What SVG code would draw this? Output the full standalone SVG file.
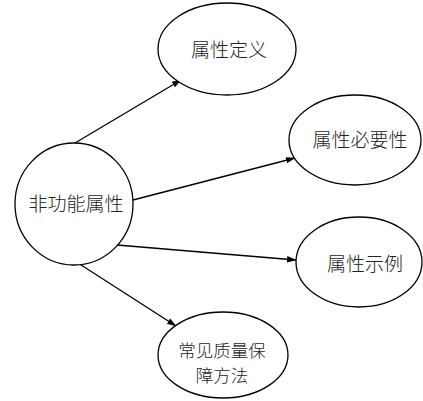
<svg xmlns="http://www.w3.org/2000/svg" width="423" height="401" viewBox="0 0 423 401">
<style>
.n{fill:#fff;stroke:#000;stroke-width:1.3}
.t{font-family:"Noto Sans CJK SC","Noto Sans CJK JP",sans-serif;font-size:19px;font-weight:300;fill:#222;text-anchor:middle;dominant-baseline:central}
.s{font-size:17.5px}
.c{stroke:#000;stroke-width:1.3;fill:none;marker-end:url(#a)}
</style>
<defs>
<marker id="a" markerWidth="10" markerHeight="8" refX="9" refY="4" orient="auto" markerUnits="userSpaceOnUse">
<path d="M0,0.8 L9.5,4 L0,7.2 Z" fill="#000"/>
</marker>
</defs>
<rect width="423" height="401" fill="#fff"/>
<g id="connectors">
<line class="c" x1="75" y1="143" x2="181" y2="80"/>
<line class="c" x1="133" y1="200" x2="295" y2="158"/>
<line class="c" x1="117" y1="245" x2="296" y2="260"/>
<line class="c" x1="78" y1="263" x2="176" y2="326"/>
</g>
<g id="center">
<ellipse class="n" cx="74" cy="204" rx="59" ry="61"/>
<text class="t" x="76" y="202">非功能属性</text>
</g>
<g id="def">
<ellipse class="n" cx="227" cy="49" rx="69" ry="46"/>
<text class="t" x="229" y="48">属性定义</text>
</g>
<g id="need">
<ellipse class="n" cx="355" cy="140" rx="66" ry="45"/>
<text class="t" x="360" y="138">属性必要性</text>
</g>
<g id="example">
<ellipse class="n" cx="359" cy="262" rx="63" ry="45"/>
<text class="t" x="365" y="262">属性示例</text>
</g>
<g id="method">
<ellipse class="n" cx="223" cy="355" rx="65" ry="43"/>
<text class="t s" x="222" y="349">常见质量保</text>
<text class="t s" x="222" y="374.5">障方法</text>
</g>
</svg>
